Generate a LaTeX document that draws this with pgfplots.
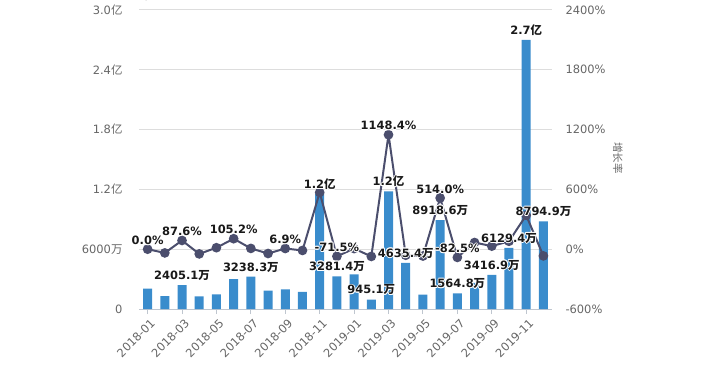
\documentclass[border=0pt]{standalone}
\usepackage{pgfplots}
\pgfplotsset{compat=1.18}
\usepackage{fontspec}
\setmainfont{DejaVu Sans}
\newfontfamily\cjk{Noto Sans CJK SC}
\protected\def\wan{{\cjk 万}}
\protected\def\yi{{\cjk 亿}}
\definecolor{barblue}{HTML}{3A8CCC}
\definecolor{linec}{HTML}{4B4E6D}
\definecolor{tickc}{HTML}{666666}
\definecolor{gridc}{HTML}{DDDDDD}
\definecolor{axisc}{HTML}{BFC6CF}
\newcommand\hc[3]{\rlap{\kern#1\raisebox{#2}{\color{white}#3}}}
\protected\def\halo#1{\hc{0.9pt}{0pt}{#1}\hc{-0.9pt}{0pt}{#1}\hc{0pt}{0.9pt}{#1}\hc{0pt}{-0.9pt}{#1}\hc{0.65pt}{0.65pt}{#1}\hc{-0.65pt}{0.65pt}{#1}\hc{0.65pt}{-0.65pt}{#1}\hc{-0.65pt}{-0.65pt}{#1}#1}
\pgfplotsset{
  myax/.style={
    width=413bp, height=299bp, scale only axis,
    at={(139bp,70bp)}, anchor=south west,
    xmin=-0.5, xmax=23.5, clip=false,
    /pgf/number format/assume math mode=true,
    tick label style={font=\fontsize{11.5}{13}\selectfont, text=tickc},
  },
  lab/.style={
    draw=none, mark=none,
    nodes near coords={\halo{\pgfplotspointmeta}},
    point meta=explicit symbolic,
    every node near coord/.style={font=\bfseries\fontsize{11.5}{13}\selectfont, text=black!90, anchor=south, inner sep=3.5bp},
  },
}
\begin{document}
\begin{tikzpicture}
\useasboundingbox (0,0) rectangle (712bp,379bp);
% bars (left axis, in 万)
\begin{axis}[myax,
  ymin=0, ymax=30000,
  axis x line*=bottom, axis y line*=left,
  y axis line style={draw=none}, ytick style={draw=none},
  x axis line style={axisc, line width=1bp},
  xtick style={axisc, line width=1bp},
  major tick length=5bp, tick align=outside,
  ytick={0,6000,12000,18000,24000,30000},
  yticklabels={0,6000\wan,1.2\yi,1.8\yi,2.4\yi,3.0\yi},
  yticklabel style={xshift=-8bp},
  ymajorgrids, grid style={gridc, line width=1bp},
  xtick={0,2,...,22},
  xticklabels={2018-01,2018-03,2018-05,2018-07,2018-09,2018-11,2019-01,2019-03,2019-05,2019-07,2019-09,2019-11},
  xticklabel style={rotate=45, anchor=north east, xshift=2bp, yshift=-1bp},
]
\addplot[ybar, bar width=9bp, fill=barblue, draw=none] coordinates {
(0,2040) (1,1282) (2,2405.1) (3,1270) (4,1462) (5,3000) (6,3238.3) (7,1840)
(8,1967) (9,1720) (10,11514) (11,3281.4) (12,3480) (13,945.1) (14,11798) (15,4635.4)
(16,1452.5) (17,8918.6) (18,1564.8) (19,2613) (20,3416.9) (21,6129.4) (22,27000) (23,8794.9)
};
\end{axis}
% growth line (right axis, %)
\begin{axis}[myax,
  ymin=-600, ymax=2400,
  axis y line*=right, axis x line=none,
  y axis line style={draw=none}, ytick style={draw=none},
  ytick={-600,0,600,1200,1800,2400},
  yticklabels={-600\%,0\%,600\%,1200\%,1800\%,2400\%},
  yticklabel style={xshift=10bp},
]
\addplot[linec, line width=2bp, mark=*, mark size=3.8bp, mark options={fill=linec, draw=linec}] coordinates {
(0,0.0) (1,-37.2) (2,87.6) (3,-47.2) (4,15.1) (5,105.2) (6,7.9) (7,-43.2)
(8,6.9) (9,-12.6) (10,569) (11,-71.5) (12,6.1) (13,-72.8) (14,1148.4) (15,-60.7)
(16,-68.7) (17,514.0) (18,-82.5) (19,67.0) (20,30.8) (21,79.4) (22,340.5) (23,-67.4)
};
\addplot[lab] coordinates {
(0,0.0) [0.0\%] (2,87.6) [87.6\%] (5,105.2) [105.2\%] (8,6.9) [6.9\%]
(11,-71.5) [-71.5\%] (14,1148.4) [1148.4\%] (17,514.0) [514.0\%] (18,-82.5) [-82.5\%]
};
\end{axis}
% bar value labels
\begin{axis}[myax, hide axis, ymin=0, ymax=30000]
\addplot[lab] coordinates {
(2,2405.1) [2405.1\wan] (6,3238.3) [3238.3\wan] (10,11514) [1.2\yi] (11,3281.4) [3281.4\wan]
(13,945.1) [945.1\wan] (14,11798) [1.2\yi] (15,4635.4) [4635.4\wan] (17,8918.6) [8918.6\wan]
(18,1564.8) [1564.8\wan] (20,3416.9) [3416.9\wan] (21,6129.4) [6129.4\wan] (22,27000) [2.7\yi]
(23,8794.9) [8794.9\wan]
};
\end{axis}
\node[rotate=-90, text=tickc, font=\cjk\fontsize{10.5}{12}\selectfont] at (618bp,221bp) {增长率};
\end{tikzpicture}
\end{document}
